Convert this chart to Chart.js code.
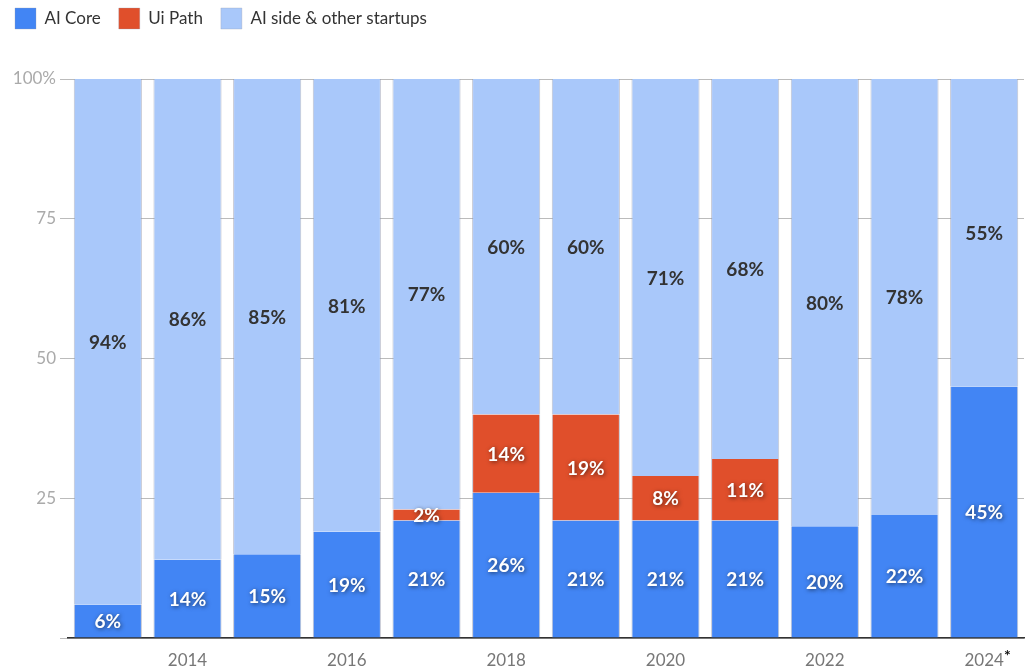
<!DOCTYPE html>
<html>
<head>
<meta charset="utf-8">
<script src="https://cdn.jsdelivr.net/npm/chart.js@4/dist/chart.umd.min.js"></script>
<style>
  html, body { margin: 0; padding: 0; background: #fff; }
  #wrap { width: 1030px; height: 672px; }
</style>
</head>
<body>
<div id="wrap"><canvas id="shareChart"></canvas></div>
<script>
const years = ['2013', '2014', '2015', '2016', '2017', '2018', '2019', '2020', '2021', '2022', '2023', '2024'];
const aiCore = [6, 14, 15, 19, 21, 26, 21, 21, 21, 20, 22, 45];
const uiPath = [0, 0, 0, 0, 2, 14, 19, 8, 11, 0, 0, 0];
const aiOther = [94, 86, 85, 81, 77, 60, 60, 71, 68, 80, 78, 55];
const yTicks = [0, 25, 50, 75, 100];

const FONT = 'Lato, "Noto Sans", sans-serif';
const X_PAD = 12;

// etiquettes de valeurs au centre des segments
const barLabels = {
    id: 'barLabels',
    afterDatasetsDraw(chart) {
        const ctx = chart.ctx;
        ctx.save();
        ctx.font = 'bold 19px ' + FONT;
        ctx.textAlign = 'center';
        ctx.textBaseline = 'middle';
        chart.data.datasets.forEach((ds, i) => {
            const meta = chart.getDatasetMeta(i);
            meta.data.forEach((bar, j) => {
                const v = ds.data[j];
                if (!v) return;
                const y = (bar.y + bar.base) / 2;
                if (i < 2) {
                    ctx.fillStyle = '#fff';
                    ctx.shadowColor = 'rgba(0,0,0,0.6)';
                    ctx.shadowBlur = 4;
                    ctx.shadowOffsetX = 1;
                    ctx.shadowOffsetY = 1;
                } else {
                    ctx.fillStyle = '#333';
                    ctx.shadowColor = 'transparent';
                    ctx.shadowBlur = 0;
                    ctx.shadowOffsetX = 0;
                    ctx.shadowOffsetY = 0;
                }
                ctx.fillText(v + '%', bar.x, y + 1);
            });
        });
        ctx.restore();
    }
};

// petit astérisque au-dessus de 2024
const starMark = {
    id: 'starMark',
    afterDraw(chart) {
        const xs = chart.scales.x;
        const ctx = chart.ctx;
        const px = xs.getPixelForValue(years.length - 1);
        ctx.save();
        ctx.font = '17px ' + FONT;
        const w = ctx.measureText('2024').width;
        ctx.font = 'bold 16px ' + FONT;
        ctx.fillStyle = '#111';
        ctx.textAlign = 'left';
        ctx.textBaseline = 'middle';
        ctx.fillText('*', px + w / 2, xs.top + X_PAD + 6);
        ctx.restore();
    }
};

// espace sous la légende
const legendGap = {
    id: 'legendGap',
    beforeInit(chart) {
        const fit = chart.legend.fit;
        chart.legend.fit = function () {
            fit.bind(chart.legend)();
            this.height += 40;
        };
    }
};

new Chart(document.getElementById('shareChart'), {
    type: 'bar',
    data: {
        labels: years,
        datasets: [
            { label: 'AI Core', data: aiCore, backgroundColor: '#4285f4' },
            { label: 'Ui Path', data: uiPath, backgroundColor: '#e04f2b' },
            { label: 'AI side & other startups', data: aiOther, backgroundColor: '#a9c8fa' }
        ].map(d => Object.assign(d, {
            borderColor: 'rgba(150,155,175,0.6)',
            borderWidth: { left: 1, right: 1, top: 0, bottom: 0 },
            borderSkipped: false,
            categoryPercentage: 1,
            barPercentage: 0.855
        }))
    },
    options: {
        responsive: true,
        maintainAspectRatio: false,
        animation: false,
        layout: { padding: { top: -10, left: -3, right: 6, bottom: 2 } },
        plugins: {
            legend: {
                position: 'top',
                align: 'start',
                labels: {
                    boxWidth: 21,
                    boxHeight: 21,
                    padding: 18,
                    color: '#333',
                    font: { family: FONT, size: 17 }
                }
            },
            tooltip: { enabled: false }
        },
        scales: {
            x: {
                stacked: true,
                afterFit(scale) { scale.height = 32; },
                grid: { display: false, drawTicks: false },
                border: { display: true, color: '#333', width: 1.5 },
                ticks: {
                    autoSkip: false,
                    maxRotation: 0,
                    padding: X_PAD,
                    color: '#777',
                    font: { family: FONT, size: 17 },
                    callback: function (val, idx) {
                        return idx % 2 === 1 ? this.getLabelForValue(val) : '';
                    }
                }
            },
            y: {
                stacked: true,
                min: 0,
                max: 100,
                afterFit(scale) { scale.width = 71; },
                afterBuildTicks(scale) { scale.ticks = yTicks.map(v => ({ value: v })); },
                grid: {
                    color: '#bbb',
                    tickLength: 8,
                    drawTicks: true
                },
                border: { display: false },
                ticks: {
                    padding: 4,
                    color: '#aaa',
                    font: { family: FONT, size: 17 },
                    callback: v => v === 100 ? '100%' : (v === 0 ? '' : v)
                }
            }
        }
    },
    plugins: [barLabels, starMark, legendGap]
});
</script>
</body>
</html>
